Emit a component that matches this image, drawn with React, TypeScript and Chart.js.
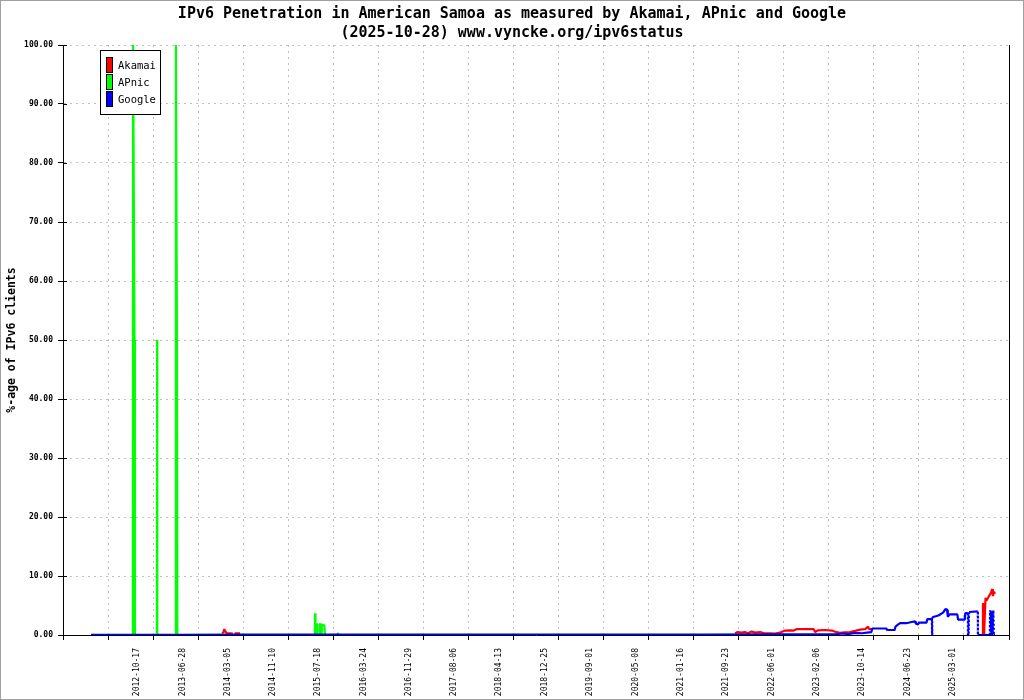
import { useEffect, useRef } from 'react';
import { Chart, registerables } from 'chart.js';

Chart.register(...registerables);

const titleLines = [
  'IPv6 Penetration in American Samoa as measured by Akamai, APnic and Google',
  '(2025-10-28) www.vyncke.org/ipv6status',
];
const yAxisTitle = '%-age of IPv6 clients';

const tickLabels = [
  '2012-10-17', '2013-06-28', '2014-03-05', '2014-11-10', '2015-07-18', '2016-03-24',
  '2016-11-29', '2017-08-06', '2018-04-13', '2018-12-25', '2019-09-01', '2020-05-08',
  '2021-01-16', '2021-09-23', '2022-06-01', '2023-02-06', '2023-10-14', '2024-06-23',
  '2025-03-01',
];
const yTicks = [0, 10, 20, 30, 40, 50, 60, 70, 80, 90, 100];
const axisStart = '2011-09-03';
const axisEnd = '2026-01-05';
const gridIntervals = 21;

const akamaiDates = [
  '2014-01-31', '2014-02-08', '2014-02-12', '2014-02-18', '2014-02-25', '2014-03-20',
  '2014-04-01', '2014-04-04', '2014-04-10', '2014-05-10', '2014-05-12',
  '2021-11-10', '2021-11-25', '2021-12-15', '2022-01-04', '2022-01-20', '2022-02-10',
  '2022-03-01', '2022-03-29', '2022-04-20', '2022-05-23', '2022-06-20', '2022-07-17',
  '2022-08-01', '2022-08-14', '2022-09-11', '2022-10-01', '2022-10-19', '2022-12-03',
  '2023-01-20', '2023-01-27', '2023-02-13', '2023-03-23', '2023-05-01', '2023-05-18',
  '2023-06-14', '2023-07-12', '2023-08-09', '2023-09-06', '2023-10-03', '2023-10-31',
  '2023-11-17', '2023-11-22', '2023-12-09', '2023-12-12',
  '2025-08-12', '2025-08-14', '2025-08-17', '2025-08-20', '2025-08-28', '2025-09-01',
  '2025-09-11', '2025-09-20', '2025-09-28', '2025-10-03', '2025-10-08', '2025-10-14',
  '2025-10-20',
];
const akamaiValues = [
  0.3, 0.5, 1.0, 0.6, 0.3, 0.3,
  0.2, null, 0.3, 0.3, null,
  0.3, 0.5, 0.4, 0.5, 0.3, 0.6,
  0.4, 0.5, 0.3, 0.3, 0.25, 0.4,
  0.6, 0.75, 0.8, 0.75, 1.0, 1.0,
  1.0, 0.5, 0.8, 0.85, 0.75, 0.55,
  0.35, 0.45, 0.5, 0.7, 0.9, 1.0,
  1.4, 1.0, 1.0, null,
  0, 5.4, 5.2, 0, 6.3, 5.8,
  6.3, 6.8, 7.2, 7.8, 6.6, 7.3,
  7.0,
];

const apnicDates = [
  '2012-09-01', '2012-09-24', '2012-09-25', '2012-10-03', '2012-10-05',
  '2013-02-04', '2013-02-05', '2013-02-06',
  '2013-05-19', '2013-05-20', '2013-05-26', '2013-05-28',
  '2015-06-28', '2015-06-30', '2015-07-02', '2015-07-06', '2015-07-10',
  '2015-07-22', '2015-07-24', '2015-07-30', '2015-08-03', '2015-08-06', '2015-08-20', '2015-08-24',
  '2015-11-02', '2015-11-03', '2015-11-05', '2016-06-01',
];
const apnicValues = [
  0, 0, 100, 50, 0,
  0, 50, 0,
  0, 100, 50, 0,
  0, 3.7, 0, 2.0, 0,
  0, 1.8, 1.9, 0.2, 1.8, 1.6, 0,
  0, 0.4, 0, 0,
];

const googleDates = [
  '2012-02-05', '2012-09-01', '2013-06-01', '2014-06-01', '2015-06-01', '2016-06-01',
  '2017-06-01', '2018-06-01', '2019-06-01', '2020-06-01', '2021-06-01', '2022-06-01',
  '2023-01-01', '2023-05-15', '2023-07-01', '2023-08-01', '2023-09-01', '2023-10-15',
  '2023-11-20', '2023-12-05', '2023-12-10', '2024-02-25', '2024-03-02', '2024-04-12',
  '2024-04-16', '2024-04-28', '2024-05-12', '2024-06-15', '2024-07-15', '2024-08-03',
  '2024-08-08', '2024-08-19', '2024-08-25', '2024-10-05', '2024-10-10', '2024-11-04',
  '2024-11-05', '2024-11-06', '2024-12-10', '2025-01-05', '2025-01-18', '2025-01-27',
  '2025-01-31', '2025-02-10', '2025-03-25', '2025-03-29', '2025-05-05', '2025-05-08',
  '2025-05-22', '2025-05-23', '2025-05-25', '2025-05-27', '2025-05-29', '2025-07-16',
  '2025-07-17', '2025-09-21', '2025-09-22', '2025-09-24', '2025-09-27', '2025-09-30',
  '2025-10-03', '2025-10-06', '2025-10-10', '2025-10-14', '2025-10-20',
];
const googleValues = [
  0.03, 0.04, 0.04, 0.05, 0.05, 0.06,
  0.06, 0.07, 0.07, 0.08, 0.08, 0.1,
  0.1, 0.12, 0.25, 0.15, 0.35, 0.3,
  0.45, 0.5, 1.1, 1.1, 0.85, 0.85,
  1.4, 1.7, 2.0, 2.0, 2.2, 2.3,
  1.9, 1.8, 2.1, 2.1, 2.7, 2.7,
  0, 3.0, 3.3, 3.8, 4.4, 4.3,
  3.1, 3.5, 3.5, 2.6, 2.6, 3.7,
  3.7, 0, 3.8, 0, 3.9, 4.0,
  0, 0, 4.2, 0, 4.1, 0,
  4.0, 0, 4.2, 0, 0,
];

const FONT = '"DejaVu Sans Mono", monospace';
const DAY0 = Date.parse('2012-10-17');
const day = (s: string) => (Date.parse(s) - DAY0) / 864e5;
const toPoints = (dates: string[], values: (number | null)[]) =>
  dates.map((d, i) => ({ x: day(d), y: values[i] }));

const framePlugin = {
  id: 'frame',
  beforeDraw(chart: any) {
    const { ctx, width, height } = chart;
    ctx.save();
    ctx.fillStyle = '#ffffff';
    ctx.fillRect(0, 0, width, height);
    ctx.restore();
  },
  afterDraw(chart: any) {
    const { ctx, width, height } = chart;
    ctx.save();
    ctx.strokeStyle = '#a0a0a0';
    ctx.lineWidth = 1;
    ctx.strokeRect(0.5, 0.5, width - 1, height - 1);
    ctx.restore();
  },
};

const innerTickPlugin = {
  id: 'innerTicks',
  afterDraw(chart: any) {
    const { ctx, chartArea } = chart;
    const ys = chart.scales.y;
    ctx.save();
    ctx.strokeStyle = '#000';
    ctx.lineWidth = 1;
    ys.ticks.forEach((t: any) => {
      const y = Math.round(ys.getPixelForValue(t.value)) + 0.5;
      ctx.beginPath();
      ctx.moveTo(chartArea.left, y);
      ctx.lineTo(chartArea.left + 4, y);
      ctx.stroke();
    });
    ctx.restore();
  },
};

const boxLegendPlugin = {
  id: 'boxLegend',
  afterDraw(chart: any) {
    const { ctx } = chart;
    const sets = chart.data.datasets;
    ctx.save();
    ctx.fillStyle = '#ffffff';
    ctx.fillRect(100.5, 50.5, 60, 64);
    ctx.strokeStyle = '#000';
    ctx.lineWidth = 1;
    ctx.strokeRect(100.5, 50.5, 60, 64);
    ctx.font = '10.5px ' + FONT;
    ctx.textBaseline = 'middle';
    ctx.textAlign = 'left';
    sets.forEach((ds: any, i: number) => {
      const y = 57.5 + i * 17;
      ctx.fillStyle = ds.borderColor;
      ctx.fillRect(106.5, y, 6, 15);
      ctx.strokeStyle = '#000';
      ctx.strokeRect(106.5, y, 6, 15);
      ctx.fillStyle = '#000';
      ctx.fillText(ds.label, 118, 66 + i * 17);
    });
    ctx.restore();
  },
};

export default function App() {
  const ref = useRef<HTMLCanvasElement>(null);

  useEffect(() => {
    document.body.style.margin = '0';
    const canvas = ref.current;
    if (!canvas) return;
    const xMin = day(axisStart);
    const xMax = day(axisEnd);
    const gridValues = Array.from({ length: gridIntervals + 1 }, (_, k) => xMin + (k * (xMax - xMin)) / gridIntervals);
    const labelValues = tickLabels.map(day);

    const chart = new Chart(canvas, {
      type: 'line',
      data: {
        datasets: [
          {
            label: 'Akamai',
            data: toPoints(akamaiDates, akamaiValues) as any,
            borderColor: '#ff0000',
            backgroundColor: '#ff0000',
            order: 2,
          },
          {
            label: 'APnic',
            data: toPoints(apnicDates, apnicValues) as any,
            borderColor: '#00ff00',
            backgroundColor: '#00ff00',
            order: 1,
          },
          {
            label: 'Google',
            data: toPoints(googleDates, googleValues) as any,
            borderColor: '#0000ff',
            backgroundColor: '#0000ff',
            order: 0,
            segment: {
              borderDash: (c: any) =>
                Math.abs(c.p1.x - c.p0.x) < 2 && Math.abs(c.p1.y - c.p0.y) > 8 ? [2, 2] : undefined,
            },
          } as any,
        ],
      },
      options: {
        responsive: false,
        animation: false,
        devicePixelRatio: 1,
        events: [],
        spanGaps: false,
        layout: { padding: 0 },
        elements: {
          point: { radius: 0 },
          line: { borderWidth: 2.2, tension: 0, borderJoinStyle: 'bevel', borderCapStyle: 'butt' },
        },
        plugins: {
          legend: { display: false },
          tooltip: { enabled: false },
          title: {
            display: true,
            text: titleLines,
            color: '#000',
            font: { family: FONT, size: 15, weight: 'bold', lineHeight: 19 / 15 },
            padding: { top: 5, bottom: 2 },
          },
        },
        scales: {
          x: {
            type: 'linear',
            position: 'bottom',
            min: xMin,
            max: xMax,
            weight: 0,
            afterBuildTicks: (s: any) => {
              s.ticks = gridValues.map((v) => ({ value: v }));
            },
            afterFit: (s: any) => {
              s.height = 5;
            },
            ticks: { display: false, autoSkip: false },
            grid: { color: '#c0c0c0', tickColor: '#000', tickLength: 5, lineWidth: 1 },
            border: { display: true, color: '#000', width: 1, dash: [2, 4] },
          },
          xl: {
            type: 'linear',
            position: 'bottom',
            min: xMin,
            max: xMax,
            weight: 1,
            afterBuildTicks: (s: any) => {
              s.ticks = labelValues.map((v) => ({ value: v }));
            },
            afterFit: (s: any) => {
              s.height = 60;
            },
            ticks: {
              autoSkip: false,
              maxRotation: 90,
              minRotation: 90,
              padding: 8,
              color: '#000',
              font: { family: FONT, size: 8 },
              callback: (_v: any, i: number) => tickLabels[i],
            },
            grid: { display: false, drawTicks: false },
            border: { display: false },
          },
          y: {
            type: 'linear',
            position: 'left',
            min: 0,
            max: 100,
            afterBuildTicks: (s: any) => {
              s.ticks = yTicks.map((v) => ({ value: v }));
            },
            afterFit: (s: any) => {
              s.width = 63;
            },
            ticks: {
              padding: 5,
              color: '#000',
              font: { family: FONT, size: 8, weight: 'bold' },
              callback: (v: any) => Number(v).toFixed(2),
            },
            grid: { color: '#c0c0c0', tickColor: '#000', tickLength: 5, lineWidth: 1 },
            border: { display: true, color: '#000', width: 1, dash: [2, 4] },
            title: {
              display: true,
              text: yAxisTitle,
              color: '#000',
              font: { family: FONT, size: 11.5, weight: 'bold' },
              padding: { top: 5, bottom: 0 },
            },
          },
          yr: {
            type: 'linear',
            position: 'right',
            min: 0,
            max: 100,
            afterFit: (s: any) => {
              s.width = 15;
            },
            ticks: { display: false },
            grid: { display: false, drawTicks: false },
            border: { display: true, color: '#000', width: 1 },
          },
        },
      } as any,
      plugins: [framePlugin, innerTickPlugin, boxLegendPlugin],
    });

    return () => chart.destroy();
  }, []);

  return (
    <canvas ref={ref} width={1024} height={700} style={{ display: 'block', width: 1024, height: 700 }} />
  );
}
